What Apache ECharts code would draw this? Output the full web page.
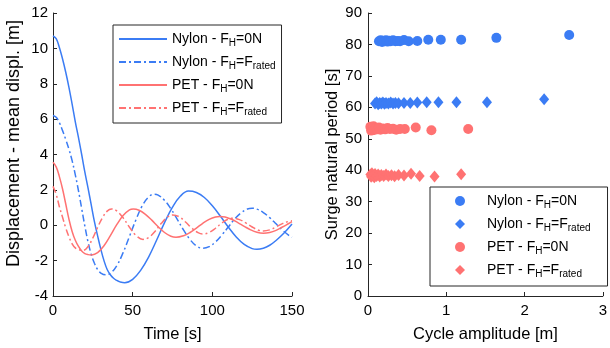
<!DOCTYPE html>
<html><head><meta charset="utf-8">
<script src="https://cdn.jsdelivr.net/npm/echarts@6/dist/echarts.min.js"></script>
<style>html,body{margin:0;padding:0;background:#fff}#c{width:610px;height:348px}</style>
</head><body><div id="c"></div>
<script>
// ---- Left panel: displacement time series [time s, displacement m]
const nylon0N = [[0,10.7],[2,10.55],[4,10.05],[6,9.4],[8,8.65],[10,7.8],[12,6.85],[14,5.85],[16,4.95],[18,4.0],[20,3.0],[22,2.1],[24,1.15],[26,0.2],[28,-0.6],[30,-1.35],[32,-2.0],[34,-2.5],[36,-2.8],[38,-3.0],[40,-3.12],[42,-3.2],[45,-3.25],[50,-3.06],[55,-2.55],[60,-1.8],[65,-0.85],[70,0.15],[75,1.02],[80,1.65],[85,1.93],[90,1.85],[95,1.57],[100,1.1],[105,0.52],[110,-0.1],[115,-0.66],[120,-1.08],[125,-1.32],[128,-1.36],[132,-1.3],[136,-1.13],[140,-0.86],[145,-0.44],[150,0.07]];
const nylonRated = [[0,6.2],[2,6.1],[4,5.8],[6,5.35],[8,4.85],[10,4.3],[12,3.65],[14,2.85],[16,1.95],[18,0.95],[20,-0.05],[22,-0.95],[24,-1.65],[26,-2.15],[28,-2.5],[30,-2.7],[33,-2.8],[36,-2.72],[40,-2.29],[44,-1.55],[48,-0.63],[52,0.3],[56,1.1],[60,1.6],[63.4,1.75],[66,1.7],[70,1.41],[74,0.93],[78,0.33],[82,-0.28],[86,-0.81],[90,-1.17],[94,-1.3],[98,-1.21],[102,-0.94],[106,-0.55],[110,-0.1],[114,0.35],[118,0.7],[122,0.92],[125,0.96],[128,0.91],[132,0.72],[136,0.43],[140,0.08],[144,-0.28],[148,-0.57],[150,-0.68]];
const pet0N = [[0,3.56],[2,3.3],[4,2.75],[6,2.05],[8,1.2],[10,0.35],[12,-0.35],[14,-0.85],[16,-1.2],[18,-1.45],[20,-1.6],[22,-1.66],[24.3,-1.68],[28,-1.55],[32,-1.16],[36,-0.59],[40,0.03],[44,0.55],[48,0.87],[50.4,0.92],[54,0.85],[58,0.62],[62,0.29],[66,-0.08],[70,-0.41],[74,-0.62],[77.2,-0.68],[82,-0.59],[86,-0.41],[90,-0.16],[94,0.11],[98,0.33],[102,0.47],[104.8,0.5],[108,0.47],[112,0.34],[116,0.15],[120,-0.06],[124,-0.26],[128,-0.4],[132,-0.45],[136,-0.41],[140,-0.29],[144,-0.1],[148,0.1],[150,0.2]];
const petRated = [[0,2.2],[2,1.75],[4,1.05],[6,0.45],[8,-0.15],[10,-0.65],[12,-1.05],[14,-1.28],[16,-1.38],[19,-1.42],[22,-1.2],[25,-0.72],[28,-0.12],[31,0.42],[34,0.8],[36.8,0.92],[40,0.81],[44,0.42],[48,-0.11],[52,-0.57],[56.5,-0.8],[60,-0.7],[64,-0.35],[68,0.11],[72,0.47],[75,0.58],[79,0.49],[83,0.2],[87,-0.15],[91,-0.42],[94,-0.5],[98,-0.41],[102,-0.17],[106,0.13],[110,0.35],[113,0.4],[117,0.32],[121,0.13],[125,-0.1],[129,-0.28],[132,-0.32],[136,-0.26],[140,-0.1],[144,0.09],[148,0.22],[150,0.25]];

// ---- Right panel: [cycle amplitude m, surge natural period s]
const nylon0NPeriod = [[0.14,81.0],[0.16,81.3],[0.18,80.8],[0.19,81.2],[0.21,81.0],[0.23,81.3],[0.25,80.9],[0.27,81.2],[0.29,81.0],[0.32,81.3],[0.35,81.0],[0.38,81.1],[0.41,81.0],[0.46,81.4],[0.52,81.0],[0.63,81.1],[0.77,81.5],[0.93,81.5],[1.19,81.5],[1.64,82.1],[2.57,83.0]];
const nylonRatedPeriod = [[0.09,61.2],[0.11,61.6],[0.13,61.0],[0.15,61.4],[0.17,61.2],[0.19,61.5],[0.21,61.1],[0.23,61.4],[0.26,61.2],[0.29,61.5],[0.32,61.2],[0.35,61.4],[0.39,61.3],[0.46,61.4],[0.54,61.4],[0.63,61.5],[0.75,61.6],[0.9,61.6],[1.13,61.6],[1.52,61.6],[2.25,62.6]];
const pet0NPeriod = [[0.03,53.8],[0.04,52.6],[0.05,53.3],[0.07,54.0],[0.08,52.8],[0.1,53.4],[0.12,53.0],[0.14,53.6],[0.16,52.9],[0.19,53.3],[0.22,53.0],[0.25,53.4],[0.28,53.1],[0.32,53.2],[0.36,52.9],[0.41,53.1],[0.47,53.1],[0.61,53.6],[0.81,52.7],[1.28,53.1]];
const petRatedPeriod = [[0.03,38.6],[0.04,37.9],[0.05,39.0],[0.06,38.3],[0.08,37.8],[0.09,38.8],[0.11,38.2],[0.13,38.6],[0.15,38.0],[0.17,38.5],[0.2,38.2],[0.23,38.6],[0.26,38.2],[0.3,38.4],[0.34,38.1],[0.39,38.5],[0.46,38.3],[0.55,38.9],[0.66,38.2],[0.85,38.0],[1.19,38.7]];

// ---- Tick labels / names
const leftXTicks = [0, 50, 100, 150];
const leftYTicks = [-4, -2, 0, 2, 4, 6, 8, 10, 12];
const rightXTicks = [0, 1, 2, 3];
const rightYTicks = [0, 10, 20, 30, 40, 50, 60, 70, 80, 90];
const lineNames = ['Nylon0N', 'NylonRated', 'PET0N', 'PETRated'];
const dotNames = ['Nylon0N ', 'NylonRated ', 'PET0N ', 'PETRated '];
const legendLabels = {
  'Nylon0N': ['Nylon - F', 'H', '=0N', ''],
  'NylonRated': ['Nylon - F', 'H', '=F', 'rated'],
  'PET0N': ['PET - F', 'H', '=0N', ''],
  'PETRated': ['PET - F', 'H', '=F', 'rated']
};

const BLUE = '#3b7cf4', RED = '#ff7272', AX = '#262626';
const FONT = '"Liberation Sans", Arial, Helvetica, sans-serif';
const DASHDOT = [7, 3, 2, 3];

function fmtBody(name) {
  const p = legendLabels[name.trim()];
  let s = '{n|' + p[0] + '}{s|' + p[1] + '}{n|' + p[2] + '}';
  if (p[3]) s += '{s|' + p[3] + '}';
  return s;
}
function fmtLeft(name) { return fmtBody(name); }
function fmtRight(name) { return '{g|}' + fmtBody(name); }
const rich = {
  n: { fontSize: 14, lineHeight: 18, color: '#000', fontFamily: FONT },
  s: { fontSize: 10, lineHeight: 10, verticalAlign: 'bottom', color: '#000', fontFamily: FONT },
  g: { width: 17, lineHeight: 18 }
};

function axis(extra) {
  return Object.assign({
    type: 'value',
    axisLine: { show: true, onZero: false, lineStyle: { color: AX, width: 1 } },
    axisTick: { show: true, inside: true, length: 4, lineStyle: { color: AX, width: 1 } },
    axisLabel: { color: '#000', fontSize: 15, fontFamily: FONT },
    splitLine: { show: false },
    nameLocation: 'middle',
    nameTextStyle: { color: '#000', fontSize: 16.5, fontFamily: FONT }
  }, extra);
}

const chart = echarts.init(document.getElementById('c'), null, { renderer: 'canvas' });
chart.setOption({
  animation: false,
  backgroundColor: '#fff',
  textStyle: { fontFamily: FONT },
  grid: [
    { left: 53, right: 318, top: 13, bottom: 52 },
    { left: 368, right: 2, top: 13, bottom: 51 }
  ],
  xAxis: [
    axis({ gridIndex: 0, min: leftXTicks[0], max: leftXTicks[leftXTicks.length - 1], interval: 50, name: 'Time [s]', nameGap: 30, axisLabel: { color: '#000', fontSize: 15, fontFamily: FONT, margin: 7 } }),
    axis({ gridIndex: 1, min: rightXTicks[0], max: rightXTicks[rightXTicks.length - 1], interval: 1, name: 'Cycle amplitude [m]', nameGap: 30, axisLabel: { color: '#000', fontSize: 15, fontFamily: FONT, margin: 7 } })
  ],
  yAxis: [
    axis({ gridIndex: 0, min: leftYTicks[0], max: leftYTicks[leftYTicks.length - 1], interval: 2, name: 'Displacement - mean displ. [m]', nameGap: 30, nameTextStyle: { color: '#000', fontSize: 18, fontFamily: FONT, padding: [0, 0, 0, 22] }, axisLabel: { color: '#000', fontSize: 15, fontFamily: FONT, margin: 5 } }),
    axis({ gridIndex: 1, min: rightYTicks[0], max: rightYTicks[rightYTicks.length - 1], interval: 10, name: 'Surge natural period [s]', nameGap: 27, axisLabel: { color: '#000', fontSize: 15, fontFamily: FONT, margin: 6 } })
  ],
  legend: [
    {
      data: lineNames, orient: 'vertical', left: 113, top: 25,
      itemWidth: 48, itemHeight: 10, itemGap: 7, padding: [7, 6, 6, 5],
      itemStyle: { opacity: 0 },
      borderColor: AX, borderWidth: 1, backgroundColor: '#fff', borderRadius: 0,
      selectedMode: false, formatter: fmtLeft, textStyle: { rich: rich }
    },
    {
      data: dotNames, orient: 'vertical', left: 430, top: 187,
      itemWidth: 10, itemHeight: 10, itemGap: 7, padding: [7, 17, 7, 25],
      borderColor: AX, borderWidth: 1, backgroundColor: '#fff', borderRadius: 0,
      selectedMode: false, formatter: fmtRight, textStyle: { rich: rich }
    }
  ],
  series: [
    { name: lineNames[0], type: 'line', xAxisIndex: 0, yAxisIndex: 0, data: nylon0N, smooth: 0.4, showSymbol: false, symbol: 'none', lineStyle: { color: BLUE, width: 1.5, type: 'solid' }, itemStyle: { color: BLUE } },
    { name: lineNames[1], type: 'line', xAxisIndex: 0, yAxisIndex: 0, data: nylonRated, smooth: 0.4, showSymbol: false, symbol: 'none', lineStyle: { color: BLUE, width: 1.5, type: DASHDOT }, itemStyle: { color: BLUE } },
    { name: lineNames[2], type: 'line', xAxisIndex: 0, yAxisIndex: 0, data: pet0N, smooth: 0.4, showSymbol: false, symbol: 'none', lineStyle: { color: RED, width: 1.5, type: 'solid' }, itemStyle: { color: RED } },
    { name: lineNames[3], type: 'line', xAxisIndex: 0, yAxisIndex: 0, data: petRated, smooth: 0.4, showSymbol: false, symbol: 'none', lineStyle: { color: RED, width: 1.5, type: DASHDOT }, itemStyle: { color: RED } },
    { name: dotNames[0], type: 'scatter', xAxisIndex: 1, yAxisIndex: 1, data: nylon0NPeriod, symbol: 'circle', symbolSize: 10, itemStyle: { color: BLUE, opacity: 1 } },
    { name: dotNames[1], type: 'scatter', xAxisIndex: 1, yAxisIndex: 1, data: nylonRatedPeriod, symbol: 'diamond', symbolSize: [10, 12], itemStyle: { color: BLUE, opacity: 1 } },
    { name: dotNames[2], type: 'scatter', xAxisIndex: 1, yAxisIndex: 1, data: pet0NPeriod, symbol: 'circle', symbolSize: 10, itemStyle: { color: RED, opacity: 1 } },
    { name: dotNames[3], type: 'scatter', xAxisIndex: 1, yAxisIndex: 1, data: petRatedPeriod, symbol: 'diamond', symbolSize: [10, 12], itemStyle: { color: RED, opacity: 1 } }
  ]
});
</script>
</body></html>
